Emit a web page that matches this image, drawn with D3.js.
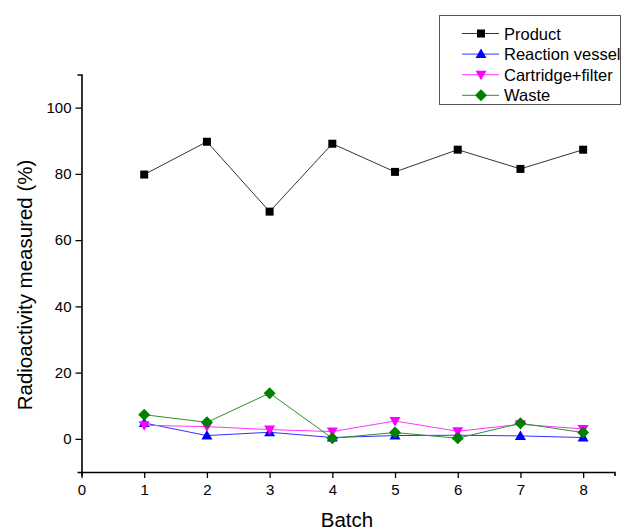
<!DOCTYPE html>
<html><head><meta charset="utf-8">
<script src="https://cdn.jsdelivr.net/npm/d3@7"></script>
<style>body{margin:0;background:#fff}svg{display:block}text{font-family:Arial,"Liberation Sans",sans-serif}</style>
</head><body>
<script>
const batches = [1,2,3,4,5,6,7,8];
const product = [79.8, 89.7, 68.6, 89.1, 80.6, 87.3, 81.5, 87.3];
const reactionVessel = [4.8, 1.0, 2.0, 0.4, 1.0, 1.1, 0.9, 0.4];
const cartridgeFilter = [4.1, 3.7, 2.8, 2.2, 5.4, 2.3, 4.4, 3.0];
const waste = [7.3, 5.0, 13.8, 0.2, 1.9, 0.2, 4.7, 1.9];
const xTicks = [0,1,2,3,4,5,6,7,8];
const yTicks = [0,20,40,60,80,100];
const seriesNames = ["Product","Reaction vessel","Cartridge+filter","Waste"];

const series = [
  {name: seriesNames[0], values: product, color: "#000000", line: "#333333", shape: "square"},
  {name: seriesNames[1], values: reactionVessel, color: "#0000ff", line: "#3333ff", shape: "up"},
  {name: seriesNames[2], values: cartridgeFilter, color: "#ff00ff", line: "#ff33ff", shape: "down"},
  {name: seriesNames[3], values: waste, color: "#007f00", line: "#2f8f2f", shape: "diamond"}
];

const W = 624, H = 530;
const svg = d3.select("body").append("svg").attr("width", W).attr("height", H);
const x = d3.scaleLinear().domain([0, 8.5]).range([81.5, 614.5]);
const y = d3.scaleLinear().domain([-10, 110]).range([472, 74.5]);

// minor ticks
const gx = svg.append("g").attr("transform", `translate(0,${y(-10)})`);
gx.call(d3.axisBottom(x).tickValues(d3.range(0.5, 8.5, 1)).tickSize(4).tickFormat(""))
  .call(g => g.select(".domain").remove());
gx.call(d3.axisBottom(x).tickValues(xTicks).tickSize(6).tickSizeOuter(4).tickPadding(6).tickFormat(d3.format("d")));
const gy = svg.append("g").attr("transform", `translate(${x(0)},0)`);
gy.call(d3.axisLeft(y).tickValues(d3.range(-10, 111, 20)).tickSize(4).tickFormat(""))
  .call(g => g.select(".domain").remove());
gy.call(d3.axisLeft(y).tickValues(yTicks).tickSize(6).tickSizeOuter(4).tickPadding(4).tickFormat(d3.format("d")));
svg.selectAll(".domain").attr("stroke-width", 1.6).attr("stroke", "#000");
svg.selectAll(".tick line").attr("stroke-width", 1.3).attr("stroke", "#000");
svg.selectAll(".tick text").attr("font-size", 15).attr("fill", "#000")
  .attr("font-family", "Arial, 'Liberation Sans', sans-serif");

svg.append("text").attr("x", 347).attr("y", 527).attr("text-anchor", "middle")
  .attr("font-size", 20.5).text("Batch");
svg.append("text").attr("transform", "translate(32,285) rotate(-90)").attr("text-anchor", "middle")
  .attr("font-size", 20.5).text("Radioactivity measured (%)");

function symbolPath(shape) {
  if (shape === "square") return "M-4,-4H4V4H-4Z";
  if (shape === "up") return "M0,-5.5L5.5,4L-5.5,4Z";
  if (shape === "down") return "M0,5.5L5.5,-4L-5.5,-4Z";
  return "M0,-6L6,0L0,6L-6,0Z";
}

const line = d3.line().x((d, i) => x(batches[i])).y(d => y(d));
series.forEach(s => {
  const g = svg.append("g");
  g.append("path").attr("d", line(s.values)).attr("fill", "none")
    .attr("stroke", s.line).attr("stroke-width", 1);
  g.selectAll("path.m").data(s.values).enter().append("path").attr("class", "m")
    .attr("transform", (d, i) => `translate(${x(batches[i])},${y(d)})`)
    .attr("d", symbolPath(s.shape)).attr("fill", s.color);
});

// legend
const lg = svg.append("g");
lg.append("rect").attr("x", 439.5).attr("y", 15.5).attr("width", 181).attr("height", 89)
  .attr("fill", "#fff").attr("stroke", "#555").attr("stroke-width", 1);
series.forEach((s, i) => {
  const cy = 33.5 + i * 20.6;
  lg.append("line").attr("x1", 462).attr("x2", 499).attr("y1", cy).attr("y2", cy)
    .attr("stroke", s.line).attr("stroke-width", 1);
  lg.append("path").attr("transform", `translate(481,${cy})`).attr("d", symbolPath(s.shape)).attr("fill", s.color);
  lg.append("text").attr("x", 504).attr("y", cy + 6).attr("font-size", 16.5).text(s.name);
});
</script>
</body></html>
